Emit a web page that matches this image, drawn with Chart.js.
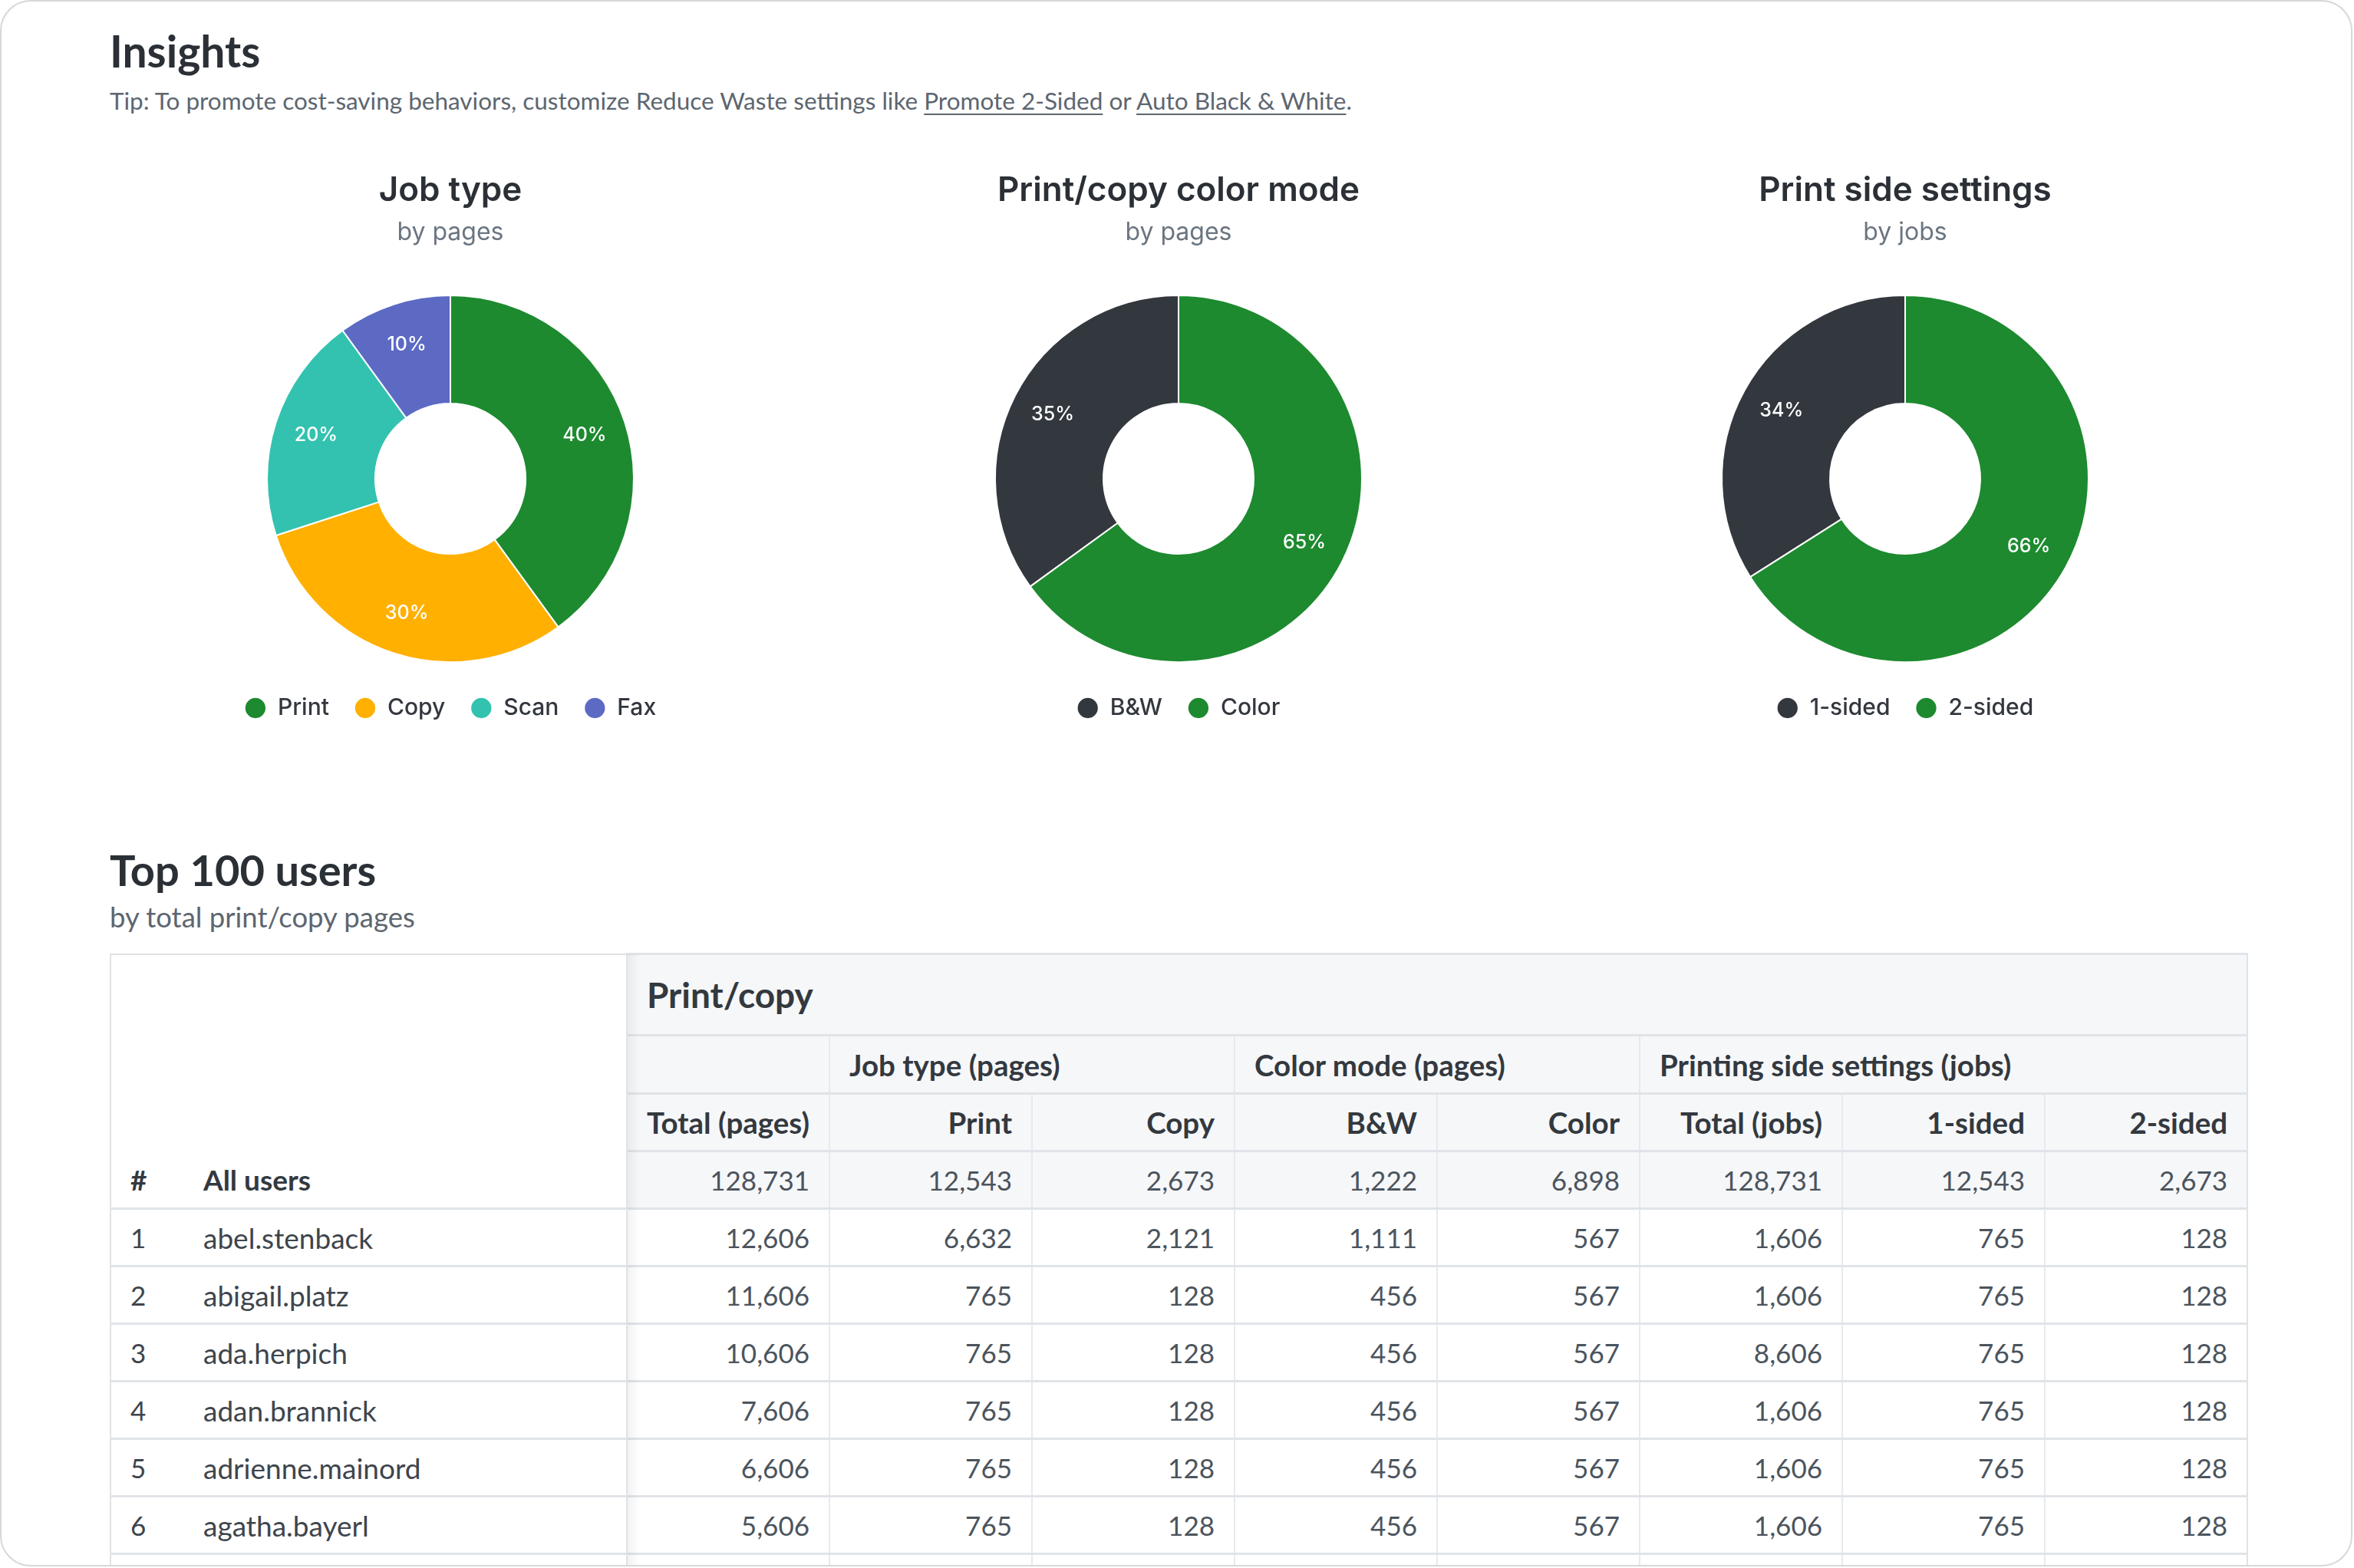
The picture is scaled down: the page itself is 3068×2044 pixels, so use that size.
<!DOCTYPE html>
<html><head><meta charset="utf-8">
<script src="https://cdn.jsdelivr.net/npm/chart.js@4.4.0/dist/chart.umd.min.js"></script>
<style>
html,body{margin:0;padding:0;background:#fff;width:3068px;height:2044px;overflow:hidden}
#card{position:absolute;left:0;top:0;width:3066px;height:2042px;box-sizing:border-box;border:2px solid #d5d7d9;border-radius:40px;overflow:hidden;background:#fff;font-family:Lato,sans-serif}
.h1{position:absolute;left:141px;font-size:57px;font-weight:700;color:#2b3036;line-height:1;margin:0;white-space:nowrap}
.sub{position:absolute;left:141px;font-size:31.5px;color:#5d6670;line-height:1;white-space:nowrap}
.sub a{color:#5d6670;text-decoration:underline;text-underline-offset:5px;text-decoration-thickness:2px}
.chartbox{position:absolute;top:215px;width:948px;height:731px}
table{position:absolute;left:141px;top:1240px;border-collapse:collapse;table-layout:fixed;width:2786px;font-size:35px;color:#4b545d;border:2px solid #dfe3e7}
th,td{padding:0 25px;box-sizing:border-box;white-space:nowrap;overflow:hidden}
td{text-align:right;border-top:3px solid #e0e4e8;border-left:2px solid #e7eaed}
th{font-weight:700;color:#33393f;font-size:38.5px}
.num{background:#f6f7f9;border-left:2px solid #e7eaed;border-top:3px solid #e0e4e8;text-align:right}
.grp{text-align:left}
.big{font-size:46px}
.c0{text-align:left;padding:0 0 0 25px;border-left:none;background:#fff;font-weight:700}
.c1{text-align:left;padding:0 0 0 23px;border-left:none;border-right:2px solid #dfe3e7;background:#fff}
td.c0,td.c1{font-weight:400;color:#3e454c}
td.c1{font-size:37px}
th.c0,th.c1{vertical-align:bottom;padding-bottom:14px;font-size:37px}
#shadow{position:absolute;left:816px;top:1242px;width:16px;height:800px;background:linear-gradient(to right,rgba(0,0,0,0.05),rgba(0,0,0,0))}
</style></head>
<body>
<div id="card">
  <div class="h1" style="top:36px">Insights</div>
  <div class="sub" style="top:114px">Tip: To promote cost-saving behaviors, customize Reduce Waste settings like <a>Promote 2-Sided</a> or <a>Auto Black &amp; White</a>.</div>
  <div class="chartbox" style="left:111px"><canvas id="c1" width="948" height="731"></canvas></div>
  <div class="chartbox" style="left:1060px"><canvas id="c2" width="948" height="731"></canvas></div>
  <div class="chartbox" style="left:2007px"><canvas id="c3" width="948" height="731"></canvas></div>
  <div class="h1" style="top:1104px;font-size:56px">Top 100 users</div>
  <div class="sub" style="top:1175px;font-size:36.5px">by total print/copy pages</div>
  <table id="tbl"></table>
  <div id="shadow"></div>
</div>
<script>
// ---- Chart data ----
const jobLabels = ['Print', 'Copy', 'Scan', 'Fax'];
const jobValues = [40, 30, 20, 10];
const colorModeLabels = ['B&W', 'Color'];
const colorModeValues = [35, 65];
const sideLabels = ['1-sided', '2-sided'];
const sideValues = [34, 66];

// ---- Table data ----
const userNames = ['abel.stenback', 'abigail.platz', 'ada.herpich', 'adan.brannick', 'adrienne.mainord', 'agatha.bayerl'];
const totalPages = [12606, 11606, 10606, 7606, 6606, 5606];
const printPages = [6632, 765, 765, 765, 765, 765];
const copyPages = [2121, 128, 128, 128, 128, 128];
const bwPages = [1111, 456, 456, 456, 456, 456];
const colorPages = [567, 567, 567, 567, 567, 567];
const totalJobs = [1606, 1606, 8606, 1606, 1606, 1606];
const oneSidedJobs = [765, 765, 765, 765, 765, 765];
const twoSidedJobs = [128, 128, 128, 128, 128, 128];
const allUsersRow = [128731, 12543, 2673, 1222, 6898, 128731, 12543, 2673];
const columnHeaders = ['Total (pages)', 'Print', 'Copy', 'B&W', 'Color', 'Total (jobs)', '1-sided', '2-sided'];

const GREEN = '#1d8a2f', DARK = '#33373e';
const jobColors = [GREEN, '#ffb000', '#33c2b0', '#5c6ac4'];
const twoColors = [DARK, GREEN];

const fmt = v => v.toLocaleString('en-US');
const esc = s => s.replace(/&/g, '&amp;');

// build table
(function(){
  let h = '<colgroup><col style="width:98px"><col style="width:575px">';
  for (let i = 0; i < 8; i++) h += '<col style="width:264px">';
  h += '</colgroup>';
  h += '<tr style="height:106px"><th rowspan="4" class="c0">#</th><th rowspan="4" class="c1">All users</th><th colspan="8" class="num grp big" style="border-left:none">Print/copy</th></tr>';
  h += '<tr style="height:76px"><th class="num" style="border-left:none"></th><th colspan="2" class="num grp">Job type (pages)</th><th colspan="2" class="num grp">Color mode (pages)</th><th colspan="3" class="num grp">Printing side settings (jobs)</th></tr>';
  h += '<tr style="height:75px">' + columnHeaders.map((c, i) => '<th class="num"' + (i === 0 ? ' style="border-left:none"' : '') + '>' + esc(c) + '</th>').join('') + '</tr>';
  h += '<tr style="height:75px">' + allUsersRow.map((v, i) => '<td class="num" style="font-weight:400;color:#4b545d' + (i === 0 ? ';border-left:none' : '') + '">' + fmt(v) + '</td>').join('') + '</tr>';
  const cols = [totalPages, printPages, copyPages, bwPages, colorPages, totalJobs, oneSidedJobs, twoSidedJobs];
  userNames.forEach((n, r) => {
    h += '<tr style="height:75px"><td class="c0">' + (r + 1) + '</td><td class="c1">' + n + '</td>' +
      cols.map((c, i) => '<td' + (i === 0 ? ' style="border-left:none"' : '') + '>' + fmt(c[r]) + '</td>').join('') + '</tr>';
  });
  h += '<tr style="height:75px"><td class="c0"></td><td class="c1"></td>' + cols.map((c, i) => '<td' + (i === 0 ? ' style="border-left:none"' : '') + '></td>').join('') + '</tr>';
  document.getElementById('tbl').innerHTML = h;
})();

const pctLabels = {
  id: 'pctLabels',
  afterDatasetsDraw(chart) {
    const ctx = chart.ctx, ds = chart.data.datasets[0], meta = chart.getDatasetMeta(0);
    const total = ds.data.reduce((a, b) => a + b, 0);
    ctx.save();
    ctx.font = '500 25px Inter';
    ctx.fillStyle = '#ffffff';
    ctx.textAlign = 'center';
    ctx.textBaseline = 'middle';
    meta.data.forEach((arc, i) => {
      const p = arc.getProps(['x', 'y', 'startAngle', 'endAngle', 'innerRadius', 'outerRadius'], true);
      const a = (p.startAngle + p.endAngle) / 2;
      const r = p.innerRadius + 0.61 * (p.outerRadius - p.innerRadius);
      ctx.fillText(Math.round(ds.data[i] / total * 100) + '%', p.x + Math.cos(a) * r, p.y + Math.sin(a) * r);
    });
    ctx.restore();
  }
};

function makeDonut(id, title, subtitle, labels, values, colors, rotation) {
  return new Chart(document.getElementById(id), {
    type: 'doughnut',
    data: { labels, datasets: [{ data: values, backgroundColor: colors, borderColor: '#ffffff', borderWidth: 2 }] },
    options: {
      responsive: false, animation: false,
      rotation, cutout: '41%', radius: 239,
      layout: { padding: 0 },
      plugins: {
        title: { display: true, text: title, color: '#2b3036', font: { family: 'Inter', size: 44, weight: '600' }, padding: { top: 5, bottom: 4 } },
        subtitle: { display: true, text: subtitle, color: '#6b7580', font: { family: 'Inter', size: 32, weight: '400' }, padding: { top: 5, bottom: 51 } },
        legend: {
          position: 'bottom',
          labels: { usePointStyle: true, pointStyle: 'circle', boxWidth: 28, boxHeight: 20, padding: 33, color: '#33373e', font: { family: 'Inter', size: 30, weight: '500' } }
        },
        tooltip: { enabled: false }
      }
    },
    plugins: [pctLabels]
  });
}

function draw() {
  makeDonut('c1', 'Job type', 'by pages', jobLabels, jobValues, jobColors, 0);
  const cmTotal = colorModeValues.reduce((a, b) => a + b, 0);
  makeDonut('c2', 'Print/copy color mode', 'by pages', colorModeLabels, colorModeValues, twoColors, -colorModeValues[0] / cmTotal * 360);
  const sTotal = sideValues.reduce((a, b) => a + b, 0);
  makeDonut('c3', 'Print side settings', 'by jobs', sideLabels, sideValues, twoColors, -sideValues[0] / sTotal * 360);
}
if (document.fonts && document.fonts.load) {
  Promise.all([document.fonts.load('600 44px Inter'), document.fonts.load('400 32px Inter'), document.fonts.load('500 30px Inter')]).then(draw, draw);
} else draw();
</script>
</body></html>
